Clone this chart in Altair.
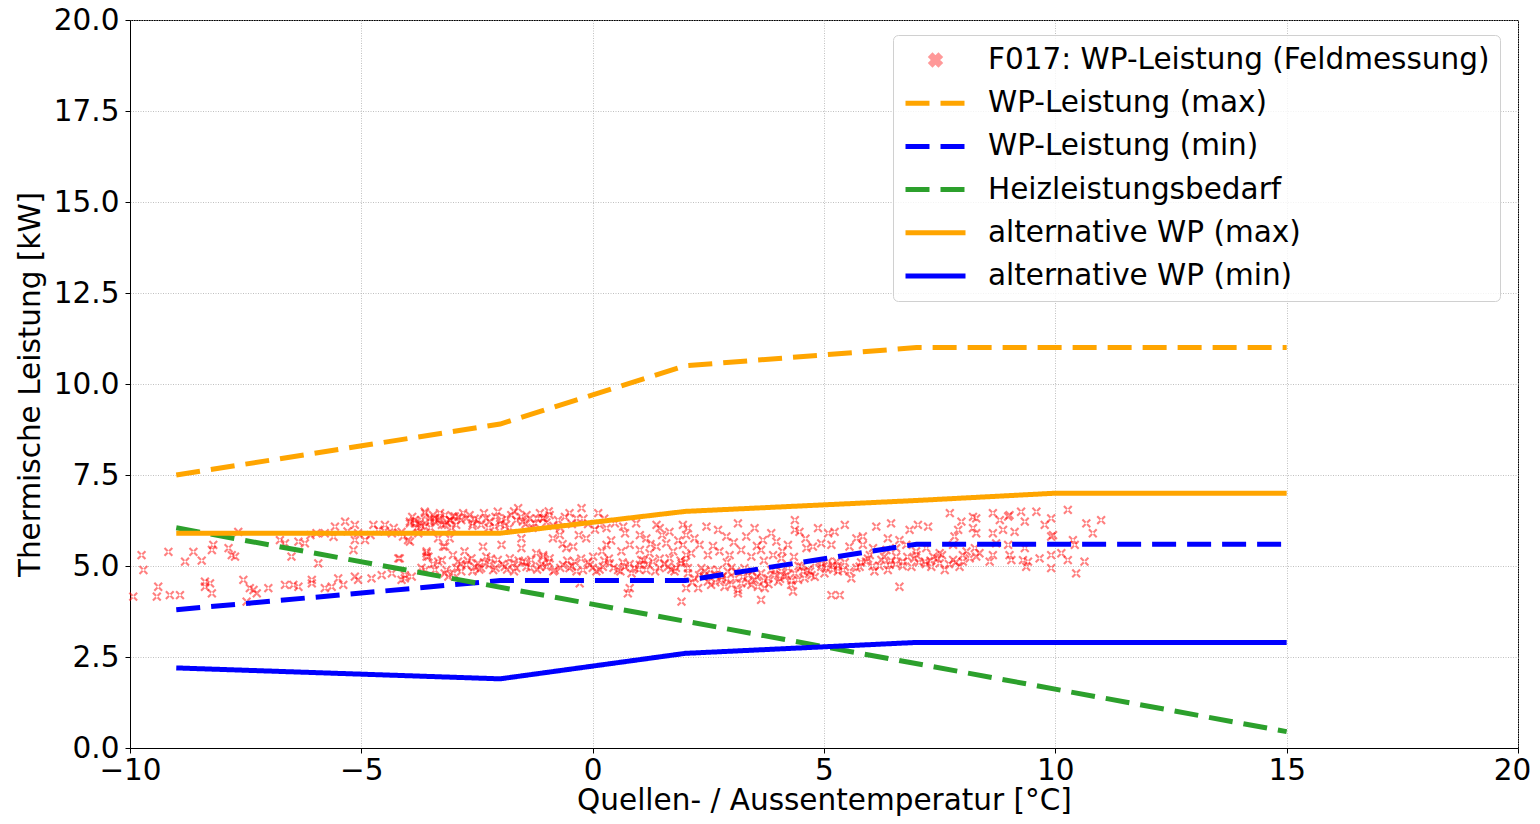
import altair as alt
import pandas as pd

# ---------------- data ----------------
X_TICKS = [-10, -5, 0, 5, 10, 15, 20]
Y_TICKS = [0, 2.5, 5, 7.5, 10, 12.5, 15, 17.5, 20]

SERIES = [
    "F017: WP-Leistung (Feldmessung)",
    "WP-Leistung (max)",
    "WP-Leistung (min)",
    "Heizleistungsbedarf",
    "alternative WP (max)",
    "alternative WP (min)",
]
COLORS = ["red", "orange", "blue", "#2ca02c", "orange", "blue"]
DASHED = ["WP-Leistung (max)", "WP-Leistung (min)", "Heizleistungsbedarf"]

WP_MAX_T = [-9, -2, 2, 7, 10, 15]
WP_MAX_P = [7.5, 8.9, 10.5, 11.0, 11.0, 11.0]
WP_MIN_T = [-9, -2, 2, 7, 10, 15]
WP_MIN_P = [3.8, 4.6, 4.6, 5.6, 5.6, 5.6]
HEIZ_T = [-9, 15]
HEIZ_P = [6.05, 0.45]
ALT_MAX_T = [-9, -2, 2, 7, 10, 15]
ALT_MAX_P = [5.9, 5.9, 6.5, 6.8, 7.0, 7.0]
ALT_MIN_T = [-9, -2, 2, 7, 10, 15]
ALT_MIN_P = [2.2, 1.9, 2.6, 2.9, 2.9, 2.9]

FELD = [
    (-9.93, 4.16), (-9.75, 5.30), (-9.71, 4.89), (-9.39, 4.43), (-9.42, 4.16), (-9.17, 5.39),
    (-9.14, 4.20), (-8.92, 4.20), (-8.81, 5.12), (-8.63, 5.39), (-8.45, 5.15), (-8.38, 4.57),
    (-8.38, 4.43), (-8.27, 4.52), (-8.23, 4.25), (-8.23, 5.44), (-8.20, 5.58), (-7.87, 5.49),
    (-7.80, 5.30), (-7.73, 5.26), (-7.66, 5.94), (-7.55, 4.62), (-7.48, 4.02), (-7.41, 4.39),
    (-7.33, 4.34), (-7.26, 4.25), (-7.01, 4.39), (-6.76, 5.71), (-6.65, 5.62), (-6.65, 4.48),
    (-6.51, 5.26), (-6.47, 4.48), (-6.36, 5.67), (-6.36, 4.43), (-6.22, 5.62), (-6.07, 4.62),
    (-6.07, 4.52), (-5.97, 5.90), (-5.93, 5.07), (-5.79, 5.90), (-5.79, 4.39), (-5.64, 4.43),
    (-5.57, 6.08), (-5.50, 4.66), (-5.39, 4.48), (-5.35, 6.22), (-5.17, 5.44), (-5.14, 6.13),
    (-5.14, 5.71), (-5.14, 4.71), (-5.07, 5.90), (-5.07, 4.62), (-4.92, 5.71), (-4.78, 4.66),
    (-4.74, 6.13), (-4.63, 5.99), (-4.56, 4.75), (-4.49, 6.13), (-4.34, 5.90), (-4.34, 4.80),
    (-4.20, 5.21), (-4.13, 5.94), (-4.13, 4.62), (-4.06, 4.75), (-3.95, 6.17), (-3.91, 4.71),
    (-3.84, 6.17), (-3.77, 5.90), (-3.70, 6.26), (-3.62, 6.45), (-3.62, 4.89), (-3.59, 5.35),
    (-3.55, 5.26), (-3.52, 6.22), (-3.41, 6.31), (-3.41, 4.89), (-3.34, 6.26), (-3.34, 5.76),
    (-3.26, 6.13), (-3.26, 5.16), (-3.19, 6.40), (-3.19, 5.53), (-3.12, 4.71), (-3.08, 6.26),
    (-3.01, 4.80), (-2.98, 6.36),
    (-3.95, 6.22), (-3.85, 6.26), (-3.74, 6.17), (-3.63, 6.49), (-3.63, 6.08), (-3.52, 6.31),
    (-3.41, 6.22), (-3.31, 6.31), (-3.20, 6.13), (-3.09, 6.26), (-3.02, 6.36), (-2.95, 6.13),
    (-2.84, 6.26), (-2.73, 6.31), (-2.66, 6.40), (-2.59, 6.17), (-2.48, 6.26), (-2.41, 6.13),
    (-2.30, 6.31), (-2.23, 6.22), (-2.12, 6.08), (-2.05, 6.49), (-1.97, 6.26), (-1.87, 6.31),
    (-1.76, 6.40), (-1.65, 6.26), (-1.61, 6.59), (-1.51, 6.22), (-1.43, 6.40), (-1.36, 6.31),
    (-1.25, 6.17), (-1.14, 6.45), (-1.07, 6.31), (-1.54, 5.76), (-4.10, 5.81), (-3.99, 5.71),
    (-4.17, 5.21), (-4.06, 4.66), (-3.95, 5.67), (-3.59, 5.40), (-3.59, 5.26), (-3.34, 5.12),
    (-3.23, 5.53), (-3.16, 4.89), (-3.09, 5.76), (-3.02, 5.30), (-2.91, 5.12), (-2.84, 4.85),
    (-2.77, 5.40), (-2.73, 5.03), (-2.62, 5.21), (-2.55, 4.98), (-2.48, 5.07), (-2.41, 4.94),
    (-2.37, 5.53), (-2.30, 5.26), (-2.23, 5.03), (-2.15, 4.89), (-2.05, 5.17), (-1.97, 5.58),
    (-1.90, 4.98), (-1.79, 5.21), (-1.72, 5.07), (-1.65, 4.94), (-1.54, 5.49), (-1.51, 5.12),
    (-1.43, 4.98), (-1.33, 5.17), (-1.22, 5.35), (-1.14, 4.98), (-1.07, 5.26),
    (-1.07, 6.31), (-0.93, 6.40), (-0.75, 6.26), (-0.24, 6.59), (-0.35, 6.31), (0.12, 6.45),
    (0.15, 6.13), (0.30, 6.04), (0.48, 6.17), (0.66, 6.08), (0.94, 6.17), (1.02, 5.85),
    (1.16, 5.76), (1.38, 6.13), (1.45, 6.04), (1.66, 5.94), (1.95, 6.13), (2.02, 5.85),
    (-0.86, 5.76), (-0.71, 5.85), (-0.42, 5.53), (-0.14, 5.76), (0.30, 5.58), (0.62, 5.40),
    (0.80, 5.58), (1.02, 5.44), (1.23, 5.35), (1.38, 5.53), (1.59, 5.62), (1.74, 5.40),
    (1.95, 5.58), (2.02, 5.30), (-1.07, 5.30), (-0.93, 5.21),
    (-1.00, 4.98), (-0.82, 4.89), (-0.64, 5.03), (-0.50, 4.94), (-0.39, 5.12), (-0.21, 4.89),
    (-0.06, 5.03), (0.08, 4.85), (0.22, 4.98), (0.37, 5.07), (0.55, 4.89), (0.69, 4.98),
    (0.84, 4.80), (1.02, 5.03), (1.16, 4.89), (1.30, 5.12), (1.45, 4.94), (1.63, 4.98),
    (1.77, 4.85), (1.92, 5.07), (2.06, 4.94), (-0.28, 4.52), (0.76, 4.25), (0.80, 4.39),
    (1.92, 4.02), (2.02, 4.39), (-0.57, 5.49), (0.01, 5.26), (1.05, 5.17), (1.66, 5.21),
    (2.06, 6.04), (2.20, 5.76), (2.46, 6.08), (2.71, 5.99), (2.89, 5.81), (3.14, 6.17),
    (3.32, 5.81), (3.50, 6.04), (3.68, 5.71), (3.86, 5.90), (3.97, 5.67), (4.37, 6.26),
    (4.37, 5.99), (4.47, 5.94), (4.87, 6.04), (5.09, 5.90), (4.22, 5.58), (2.31, 5.58),
    (2.74, 5.40), (2.96, 5.30), (3.21, 5.44), (3.43, 5.26), (3.64, 5.44), (3.90, 5.30),
    (4.08, 5.21), (4.62, 5.49), (4.76, 5.53), (4.94, 5.62), (5.16, 5.58), (2.13, 5.35),
    (2.49, 5.30),
    (2.06, 4.80), (2.20, 4.66), (2.35, 4.94), (2.49, 4.57), (2.64, 4.75), (2.78, 4.62),
    (2.92, 4.85), (3.07, 4.66), (3.21, 4.52), (3.36, 4.75), (3.50, 4.62), (3.64, 4.80),
    (3.79, 4.66), (3.93, 4.75), (4.08, 4.85), (4.22, 4.94), (4.37, 4.80), (4.51, 4.98),
    (4.65, 4.89), (4.80, 5.07), (4.94, 4.98), (5.09, 5.12), (5.19, 5.03), (2.28, 4.39),
    (2.56, 4.48), (2.85, 4.43), (3.14, 4.34), (3.43, 4.48), (3.72, 4.39), (4.01, 4.57),
    (4.29, 4.48), (4.58, 4.66), (3.14, 4.25), (3.64, 4.07), (4.33, 4.30), (5.16, 4.20),
    (2.71, 4.89), (2.42, 4.85), (3.00, 4.48), (3.28, 4.94), (3.57, 4.43), (3.86, 4.89),
    (4.15, 4.71), (4.44, 4.62), (4.73, 4.75), (5.01, 4.80),
    (5.23, 5.94), (5.45, 6.13), (5.70, 5.76), (5.84, 5.81), (6.13, 6.08), (6.45, 6.17),
    (6.38, 5.76), (6.63, 5.71), (6.85, 5.99), (7.03, 6.13), (7.25, 6.08), (7.72, 6.45),
    (7.97, 6.22), (7.90, 5.99), (8.22, 6.04), (8.29, 6.31), (7.82, 5.81), (5.55, 5.53),
    (5.84, 5.58), (6.06, 5.49), (6.35, 5.44), (6.56, 5.49), (6.78, 5.58), (6.99, 5.40),
    (7.21, 5.49), (7.50, 5.35), (7.79, 5.58), (8.08, 5.40), (8.26, 5.49), (5.27, 5.12),
    (5.41, 4.89), (5.59, 4.66), (5.77, 4.98), (5.91, 5.12), (6.09, 4.85), (6.24, 5.17),
    (6.42, 5.03), (6.56, 5.26), (6.71, 5.12), (6.89, 4.98), (7.00, 5.30), (7.18, 5.12),
    (7.36, 5.26), (7.50, 5.07), (7.61, 4.89), (7.79, 5.17), (7.93, 4.98), (8.15, 5.21),
    (8.29, 5.26), (5.34, 4.20), (6.63, 4.43), (5.30, 4.85), (5.99, 5.30), (6.38, 4.89),
    (7.32, 4.98), (8.00, 5.12),
    (8.65, 6.45), (8.65, 5.30), (8.65, 5.90), (8.36, 5.35), (8.29, 5.90), (8.22, 6.35),
    (8.58, 5.12), (8.72, 5.62),
    (8.80, 6.26), (8.87, 5.99), (8.98, 6.36), (9.01, 6.40), (9.12, 5.94), (9.26, 6.49),
    (9.34, 6.22), (9.59, 6.49), (9.77, 6.13), (9.91, 6.31), (9.91, 5.81), (9.95, 5.85),
    (10.27, 6.54), (10.67, 6.17), (10.81, 5.90), (10.99, 6.26), (10.38, 5.71), (10.42, 5.58),
    (9.01, 5.30), (9.05, 5.16), (9.30, 5.16), (9.37, 4.98), (9.41, 5.12), (9.66, 5.21),
    (9.91, 5.30), (9.91, 4.94), (10.13, 5.35), (10.27, 5.16), (10.45, 4.80), (10.63, 5.12),
    (8.98, 5.58), (9.34, 5.49),
    (-3.80, 6.05), (-3.45, 6.40), (-3.15, 6.20), (-2.90, 6.35), (-2.60, 6.10), (-2.35, 6.45),
    (-2.00, 6.15), (-1.80, 6.05), (-1.55, 6.35), (-1.30, 6.05), (-1.00, 6.20), (-0.85, 6.10),
    (-0.60, 6.35), (-0.45, 6.15), (-0.20, 6.30), (0.05, 6.00),
    (-2.95, 4.95), (-2.70, 5.15), (-2.45, 4.90), (-2.20, 5.20), (-1.95, 5.05), (-1.70, 4.85),
    (-1.45, 5.10), (-1.20, 4.90), (-0.95, 5.10), (-0.70, 4.95), (-0.45, 5.00), (-0.25, 5.20),
    (0.00, 4.95), (0.25, 5.15), (0.45, 4.95), (0.65, 5.10), (0.90, 4.95), (1.10, 5.15),
    (1.35, 4.85), (1.55, 5.05), (1.80, 4.95), (2.00, 5.10),
    (2.30, 4.75), (2.55, 4.90), (2.80, 4.70), (3.00, 4.95), (3.25, 4.70), (3.45, 4.85),
    (3.70, 4.60), (3.95, 4.90), (4.20, 4.75), (4.45, 5.00), (4.70, 4.85), (4.95, 5.05),
    (5.20, 4.90), (5.45, 5.10), (5.70, 4.95), (5.95, 5.20), (6.20, 5.00), (6.45, 5.15),
    (6.70, 5.00), (6.95, 5.20), (7.20, 5.05), (7.45, 5.20), (7.70, 5.05), (8.00, 5.30),
    (0.40, 5.70), (0.70, 5.90), (1.25, 5.60), (1.50, 5.85), (1.85, 5.70), (-0.30, 5.85),
    (-0.65, 5.60), (0.20, 5.40),
    (-3.90, 6.35), (-3.70, 6.10), (-3.50, 6.05), (-3.30, 6.45), (-3.05, 6.05), (-2.80, 6.45),
    (-2.55, 6.30), (-2.25, 6.05), (-2.10, 6.35), (-1.90, 6.10), (-1.70, 6.50), (-1.45, 6.15),
    (-1.20, 6.30), (-0.95, 6.50), (-0.70, 6.05), (-0.50, 6.45), (-0.10, 6.15), (0.25, 6.30),
    (-4.30, 6.05), (-4.50, 5.95), (-4.80, 5.85), (-5.30, 5.95), (-5.60, 5.80), (-6.10, 5.85),
    (-3.70, 4.95), (-3.45, 5.05), (-3.20, 4.80), (-2.85, 5.05), (-2.60, 4.85), (-2.35, 5.10),
    (-2.10, 4.95), (-1.85, 4.90), (-1.60, 5.15), (-1.35, 4.95), (-1.10, 5.05), (-0.85, 4.85),
    (-0.55, 5.15), (-0.35, 4.85), (-0.10, 5.10), (0.15, 4.90), (0.35, 5.20), (0.60, 4.85),
    (0.80, 5.05), (1.00, 4.90), (1.20, 5.05), (1.45, 5.20), (1.70, 4.90), (1.90, 5.15),
    (2.15, 4.55), (2.40, 4.70), (2.65, 4.55), (2.90, 4.65), (3.10, 4.85), (3.35, 4.55),
    (3.55, 4.70), (3.80, 4.50), (4.05, 4.65), (4.30, 4.60), (4.55, 4.85), (4.80, 4.70),
    (5.05, 4.95), (5.30, 5.00), (5.55, 4.85), (5.80, 5.10), (6.05, 5.00), (6.30, 5.25),
    (6.55, 5.05), (6.80, 5.25), (7.05, 5.10), (7.30, 5.15), (7.55, 5.30), (7.85, 5.10),
    (2.60, 5.55), (3.05, 5.65), (3.55, 5.55), (4.10, 5.40), (4.60, 5.75), (2.90, 5.10),
    (3.70, 5.15), (4.35, 5.25),
]

# ---------------- tables ----------------
lines_rows = []
for name, ts, ps in [
    (SERIES[1], WP_MAX_T, WP_MAX_P),
    (SERIES[2], WP_MIN_T, WP_MIN_P),
    (SERIES[3], HEIZ_T, HEIZ_P),
    (SERIES[4], ALT_MAX_T, ALT_MAX_P),
    (SERIES[5], ALT_MIN_T, ALT_MIN_P),
]:
    for t, p in zip(ts, ps):
        lines_rows.append({"series": name, "t": t, "p": p})
lines_df = pd.DataFrame(lines_rows)
feld_df = pd.DataFrame({"series": SERIES[0], "t": [a for a, b in FELD], "p": [b for a, b in FELD]})

FONT = "DejaVu Sans"
FS = 29.5
XPATH = ("M-0.105,-0.155L0.155,0.105L0.105,0.155L-0.155,-0.105Z"
         "M-0.105,0.155L0.155,-0.105L0.105,-0.155L-0.155,0.105Z")
XPATH_LEG = ("M-0.1,-0.14L0.14,0.1L0.1,0.14L-0.14,-0.1Z"
             "M-0.1,0.14L0.14,-0.1L0.1,-0.14L-0.14,0.1Z")
DASH = [24, 11]
SOLID = [1, 0]

series_js = "[" + ",".join("'" + s + "'" for s in SERIES) + "]"
colors_js = "[" + ",".join("'" + c + "'" for c in COLORS) + "]"
dashed_js = "[" + ",".join("'" + s + "'" for s in DASHED) + "]"
s0 = SERIES[0]
is0 = f"datum.value === '{s0}'"

legend = alt.Legend(
    title=None,
    orient="none",
    legendX=763,
    legendY=15,
    labelFont=FONT,
    labelFontSize=FS,
    labelColor="black",
    labelLimit=0,
    labelOffset=20,
    symbolSize=3600,
    symbolStrokeWidth=5,
    symbolOffset=0,
    clipHeight=30,
    rowPadding=13.2,
    padding=10,
    fillColor="rgba(255,255,255,0.8)",
    strokeColor="#d0d0d0",
    cornerRadius=5,
    symbolType={"expr": f"{is0} ? '{XPATH_LEG}' : 'stroke'"},
    symbolFillColor={"expr": f"{is0} ? 'red' : 'transparent'"},
    symbolStrokeColor={"expr": f"{is0} ? 'transparent' : {colors_js}[indexof({series_js}, datum.value)]"},
    symbolDash={"expr": f"indexof({dashed_js}, datum.value) >= 0 ? [24, 11] : [1, 0]"},
    symbolOpacity={"expr": f"{is0} ? 0.4 : 1"},
)

color_scale = alt.Scale(domain=SERIES, range=COLORS)
dash_scale = alt.Scale(domain=SERIES, range=[SOLID, DASH, DASH, DASH, SOLID, SOLID])

x_enc = alt.X(
    "t:Q",
    scale=alt.Scale(domain=[-10, 20], nice=False, zero=False),
    axis=alt.Axis(values=X_TICKS, format="d", title="Quellen- / Aussentemperatur [°C]",
                  labelFlush=False, labelPadding=3, titlePadding=2,
                  labelOffset={"expr": "datum.value >= 20 ? -6 : 0"}),
)
y_enc = alt.Y(
    "p:Q",
    scale=alt.Scale(domain=[0, 20], nice=False),
    axis=alt.Axis(values=Y_TICKS, format=".1f", title="Thermische Leistung [kW]",
                  labelPadding=6, titlePadding=8),
)

points = alt.Chart(feld_df).mark_point(
    shape=XPATH, size=3600, filled=True, strokeWidth=0, opacity=0.5
).encode(
    x=x_enc,
    y=y_enc,
    color=alt.Color("series:N", scale=color_scale, legend=legend),
)

lines = alt.Chart(lines_df).mark_line(strokeWidth=5, strokeCap="butt").encode(
    x=x_enc,
    y=y_enc,
    color=alt.Color("series:N", scale=color_scale, legend=legend),
    strokeDash=alt.StrokeDash("series:N", scale=dash_scale, legend=None),
)

chart = (
    alt.layer(points, lines)
    .properties(
        width=1388,
        height=728,
        autosize=alt.AutoSizeParams(type="none"),
        padding={"left": 122, "top": 12, "right": 14, "bottom": 68},
    )
    .configure_view(stroke="black", strokeWidth=1)
    .configure_axis(
        labelFont=FONT,
        labelFontSize=FS,
        labelColor="black",
        titleFont=FONT,
        titleFontSize=FS,
        titleFontWeight="normal",
        titleColor="black",
        domainColor="black",
        tickColor="black",
        tickSize=5,
        gridColor="#b0b0b0",
        gridDash=[1, 1.5],
        gridWidth=0.8,
    )
)

chart.save("out.html", embed_options={"renderer": "svg", "actions": False})
